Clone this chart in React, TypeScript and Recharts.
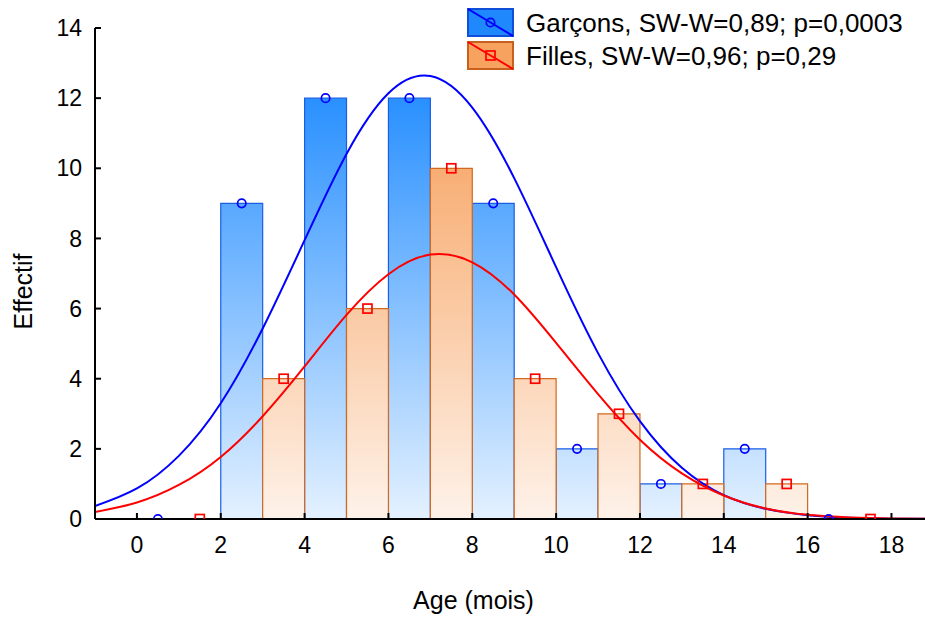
import React from 'react';
import { ComposedChart, XAxis, YAxis, Line, Scatter, ReferenceArea, Label } from 'recharts';

const FONT = '"Liberation Sans", Arial, sans-serif';

const xTicks = [0, 2, 4, 6, 8, 10, 12, 14, 16, 18];
const yTicks = [0, 2, 4, 6, 8, 10, 12, 14];

// histogram: each group's bar spans [start, start + 1]
const boysBinStart = [0, 2, 4, 6, 8, 10, 12, 14, 16];
const boysCounts = [0, 9, 12, 12, 9, 2, 1, 2, 0];
const girlsBinStart = [1, 3, 5, 7, 9, 11, 13, 15, 17];
const girlsCounts = [0, 4, 6, 10, 4, 3, 1, 1, 0];

// fitted normal curves
const curveX = [-1, 0, 1, 2, 3, 4, 5, 6, 7, 8, 9, 10, 11, 12, 13, 14, 15, 16, 17, 18, 19];
const boysCurve = [0.37, 0.87, 1.8, 3.3, 5.43, 7.95, 10.41, 12.14, 12.63, 11.73, 9.72, 7.18, 4.73, 2.79, 1.46, 0.68, 0.29, 0.11, 0.035, 0.01, 0.003];
const girlsCurve = [0.2, 0.47, 0.97, 1.77, 2.93, 4.35, 5.82, 6.98, 7.54, 7.32, 6.4, 5.02, 3.56, 2.26, 1.3, 0.67, 0.3, 0.12, 0.045, 0.015, 0.004];

const boysLabel = 'Garçons, SW-W=0,89; p=0,0003';
const girlsLabel = 'Filles, SW-W=0,96; p=0,29';
const xTitle = 'Age (mois)';
const yTitle = 'Effectif';

const curveData = curveX.map((x, i) => ({ x, boys: boysCurve[i], girls: girlsCurve[i] }));
const boysPoints = boysBinStart.map((s, i) => ({ x: s + 0.5, y: boysCounts[i] }));
const girlsPoints = girlsBinStart.map((s, i) => ({ x: s + 0.5, y: girlsCounts[i] }));

const BLUE_LINE = '#0000ff';
const RED_LINE = '#ff0000';
const BLUE_EDGE = '#1a5ee6';
const ORANGE_EDGE = '#d2691e';

const Circle = (p: any) => (
  <circle cx={p.cx} cy={p.cy} r={4.2} fill="none" stroke={BLUE_LINE} strokeWidth={1.7} />
);
const Square = (p: any) => (
  <rect x={p.cx - 4.5} y={p.cy - 4.5} width={9} height={9} fill="none" stroke={RED_LINE} strokeWidth={1.7} />
);

const LegendIcon = ({ kind }: { kind: 'b' | 'g' }) => (
  <svg width={47} height={29} style={{ display: 'block', marginRight: 12 }}>
    <rect x={1} y={1} width={45} height={27}
      fill={kind === 'b' ? '#1e88fc' : '#f7a25e'}
      stroke={kind === 'b' ? '#1050d8' : '#c8601e'} strokeWidth={2} />
    <line x1={1} y1={1} x2={46} y2={28} stroke={kind === 'b' ? BLUE_LINE : RED_LINE} strokeWidth={2} />
    {kind === 'b'
      ? <circle cx={23.5} cy={14.5} r={4.2} fill="none" stroke={BLUE_LINE} strokeWidth={1.7} />
      : <rect x={19} y={10} width={9} height={9} fill="none" stroke={RED_LINE} strokeWidth={1.7} />}
  </svg>
);

export default function App() {
  return (
    <div style={{ position: 'absolute', left: 0, top: 0, width: 925, height: 619, fontFamily: FONT, background: '#fff' }}>
      <ComposedChart width={925} height={619} data={curveData} margin={{ top: 28, right: 0, bottom: 0, left: 0 }}>
        <defs>
          <linearGradient id="gBlue" gradientUnits="userSpaceOnUse" x1="0" y1="28" x2="0" y2="519">
            <stop offset="0" stopColor="rgb(10,128,255)" />
            <stop offset="1" stopColor="rgb(228,241,255)" />
          </linearGradient>
          <linearGradient id="gOrange" gradientUnits="userSpaceOnUse" x1="0" y1="28" x2="0" y2="519">
            <stop offset="0" stopColor="rgb(245,147,70)" />
            <stop offset="1" stopColor="rgb(254,242,233)" />
          </linearGradient>
        </defs>
        <XAxis type="number" dataKey="x" domain={[-1, 18.8]} allowDataOverflow ticks={xTicks} interval={0}
          height={100} tickSize={-6} tickMargin={24}
          axisLine={{ stroke: '#000', strokeWidth: 2 }} tickLine={{ stroke: '#000', strokeWidth: 2 }}
          tick={{ fontSize: 23, fill: '#000', fontFamily: FONT }}>
          <Label content={() => (
            <text x={473.5} y={609} textAnchor="middle" fontSize={25} fill="#000" fontFamily={FONT}>{xTitle}</text>
          )} />
        </XAxis>
        <YAxis type="number" domain={[0, 14]} allowDataOverflow ticks={yTicks} interval={0}
          width={95} tickSize={-6} tickMargin={19}
          axisLine={{ stroke: '#000', strokeWidth: 2 }} tickLine={{ stroke: '#000', strokeWidth: 2 }}
          tick={{ fontSize: 23, fill: '#000', fontFamily: FONT }}>
          <Label content={() => (
            <text x={32} y={291.5} transform="rotate(-90 32 291.5)" textAnchor="middle" fontSize={25} fill="#000" fontFamily={FONT}>{yTitle}</text>
          )} />
        </YAxis>
        {boysBinStart.map((s, i) => boysCounts[i] > 0 ? (
          <ReferenceArea key={'b' + i} x1={s} x2={s + 1} y1={0} y2={boysCounts[i]}
            fill="url(#gBlue)" fillOpacity={1} stroke={BLUE_EDGE} strokeWidth={1.2} ifOverflow="visible" />
        ) : null)}
        {girlsBinStart.map((s, i) => girlsCounts[i] > 0 ? (
          <ReferenceArea key={'g' + i} x1={s} x2={s + 1} y1={0} y2={girlsCounts[i]}
            fill="url(#gOrange)" fillOpacity={1} stroke={ORANGE_EDGE} strokeWidth={1.2} ifOverflow="visible" />
        ) : null)}
        <Line dataKey="boys" type="natural" stroke={BLUE_LINE} strokeWidth={2} dot={false} activeDot={false} isAnimationActive={false} />
        <Line dataKey="girls" type="natural" stroke={RED_LINE} strokeWidth={2} dot={false} activeDot={false} isAnimationActive={false} />
        <Scatter data={boysPoints} dataKey="y" shape={Circle} isAnimationActive={false} />
        <Scatter data={girlsPoints} dataKey="y" shape={Square} isAnimationActive={false} />
      </ComposedChart>
      <div style={{ position: 'absolute', left: 467, top: 5.5, fontSize: 26, color: '#000', fontFamily: FONT }}>
        {[{ k: 'b' as const, t: boysLabel }, { k: 'g' as const, t: girlsLabel }].map((it) => (
          <div key={it.k} style={{ display: 'flex', alignItems: 'center', height: 33, whiteSpace: 'nowrap' }}>
            <LegendIcon kind={it.k} />
            <span style={{ position: 'relative', top: 1, lineHeight: '33px' }}>{it.t}</span>
          </div>
        ))}
      </div>
    </div>
  );
}
